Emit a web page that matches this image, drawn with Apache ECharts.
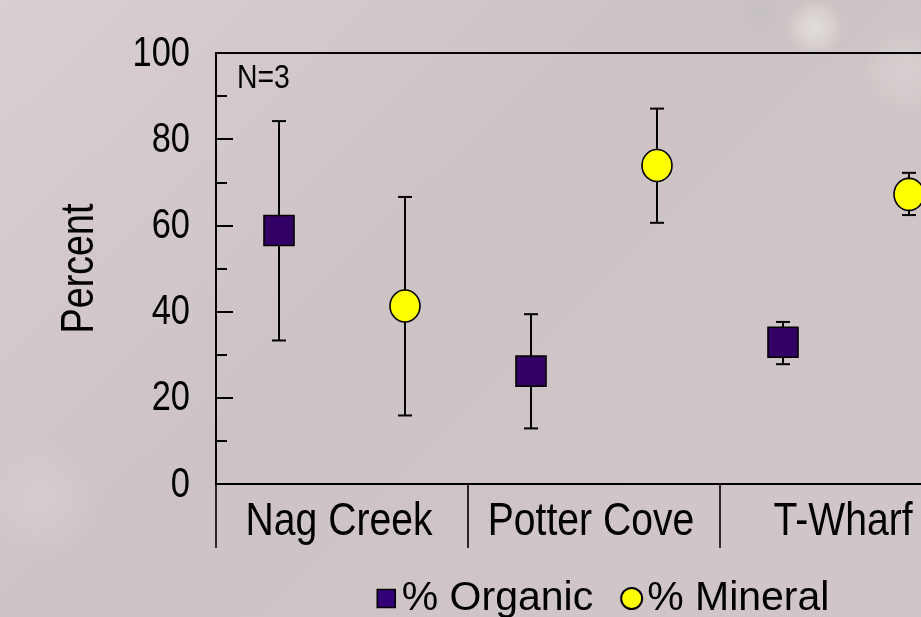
<!DOCTYPE html>
<html>
<head>
<meta charset="utf-8">
<script src="https://cdn.jsdelivr.net/npm/echarts@6/dist/echarts.min.js"></script>
<style>
html,body{margin:0;padding:0;background:#d3c9ca;overflow:hidden;width:921px;height:617px;}
#main{width:1000px;height:617px;}
</style>
</head>
<body>
<div id="main"></div>
<script>
const categories = ['Nag Creek', 'Potter Cove', 'T-Wharf'];
const organicMean = [58.8, 26.2, 32.9];
const organicLow  = [33.3, 12.9, 27.8];
const organicHigh = [84.2, 39.4, 37.6];
const mineralMean = [41.3, 73.9, 67.2];
const mineralLow  = [15.9, 60.6, 62.4];
const mineralHigh = [66.6, 87.1, 72.2];
const yTicks = [0, 20, 40, 60, 80, 100];

const organicData = categories.map((c, i) => [i, organicMean[i], organicLow[i], organicHigh[i]]);
const mineralData = categories.map((c, i) => [i, mineralMean[i], mineralLow[i], mineralHigh[i]]);

const SANS = '"Liberation Sans", Arial, sans-serif';
const NARROW_SCALE = 0.82;

function makeRender(offsetFrac, shape, fill) {
  return function (params, api) {
    const idx = api.value(0);
    const w = api.size([1, 0])[0];
    const c = api.coord([idx, api.value(1)]);
    const x = c[0] + offsetFrac * w;
    const y = c[1];
    const lo = api.coord([idx, api.value(2)])[1];
    const hi = api.coord([idx, api.value(3)])[1];
    const ls = { stroke: '#000', lineWidth: 2 };
    const cap = 7;
    const children = [
      { type: 'line', shape: { x1: x, y1: lo, x2: x, y2: hi }, style: ls },
      { type: 'line', shape: { x1: x - cap, y1: lo, x2: x + cap, y2: lo }, style: ls },
      { type: 'line', shape: { x1: x - cap, y1: hi, x2: x + cap, y2: hi }, style: ls }
    ];
    if (shape === 'rect') {
      children.push({ type: 'rect', shape: { x: x - 15, y: y - 15, width: 30, height: 30 },
        style: { fill: fill, stroke: '#000', lineWidth: 1.6 } });
    } else {
      children.push({ type: 'ellipse', shape: { cx: x, cy: y, rx: 15, ry: 16 },
        style: { fill: fill, stroke: '#000', lineWidth: 1.6 } });
    }
    return { type: 'group', children: children };
  };
}

function softBlob(cx, cy, rx, ry, rgb, alpha, rot) {
  return {
    type: 'ellipse', silent: true, z: -10,
    x: cx, y: cy, rotation: rot || 0,
    shape: { cx: 0, cy: 0, rx: rx, ry: ry },
    style: {
      fill: {
        type: 'radial', x: 0.5, y: 0.5, r: 0.5,
        colorStops: [
          { offset: 0, color: 'rgba(' + rgb + ',' + alpha + ')' },
          { offset: 0.5, color: 'rgba(' + rgb + ',' + (alpha * 0.6) + ')' },
          { offset: 1, color: 'rgba(' + rgb + ',0)' }
        ]
      }
    }
  };
}

const chart = echarts.init(document.getElementById('main'), null, { renderer: 'canvas' });
chart.setOption({
  backgroundColor: {
    type: 'linear', x: 0, y: 0, x2: 0.6, y2: 1,
    colorStops: [
      { offset: 0, color: '#dacfd0' },
      { offset: 0.55, color: '#cec3c4' },
      { offset: 1, color: '#d0c6c7' }
    ]
  },
  animation: false,
  grid: {
    left: 216, top: 53, right: 28, bottom: 133,
    show: true, borderColor: '#000', borderWidth: 2, backgroundColor: 'transparent'
  },
  legend: {
    left: 375, top: 578, padding: 0,
    itemWidth: 21, itemHeight: 21, itemGap: 27,
    textStyle: { fontFamily: SANS, fontSize: 41, color: '#000' },
    data: [
      { name: '% Organic', icon: 'path://M0,0M21,21M1.5,1.5h18v18h-18z',
        itemStyle: { color: '#330077', borderColor: '#000', borderWidth: 1.5 } },
      { name: '% Mineral', icon: 'circle',
        itemStyle: { color: '#ffff00', borderColor: '#000', borderWidth: 2 } }
    ]
  },
  xAxis: {
    type: 'category',
    data: categories,
    boundaryGap: true,
    axisLine: { lineStyle: { color: '#000', width: 2 } },
    axisTick: { show: true, inside: false, length: 64, alignWithLabel: false, interval: 0,
      lineStyle: { color: '#000', width: 1.6 } },
    axisLabel: { show: false },
    splitLine: { show: false }
  },
  yAxis: {
    type: 'value',
    min: yTicks[0], max: yTicks[yTicks.length - 1], interval: 20,
    axisLine: { show: true, lineStyle: { color: '#000', width: 2 } },
    axisTick: { show: true, inside: true, length: 17, lineStyle: { color: '#000', width: 2 } },
    minorTick: { show: true, splitNumber: 2, length: 11, lineStyle: { color: '#000', width: 2 } },
    axisLabel: { show: false },
    splitLine: { show: false }
  },
  series: [
    { name: '% Organic', type: 'custom', renderItem: makeRender(-0.25, 'rect', '#330066'),
      itemStyle: { color: '#330066' }, encode: { x: 0, y: 1 }, data: organicData, z: 5 },
    { name: '% Mineral', type: 'custom', renderItem: makeRender(0.25, 'circle', '#ffff00'),
      itemStyle: { color: '#ffff00' }, encode: { x: 0, y: 1 }, data: mineralData, z: 5 }
  ]
});

// Narrow (Arial Narrow-like) text labels, placed through the chart's own scales
const graphics = [
  softBlob(760, 12, 85, 30, '185,186,192', 0.35, 0.35),
  softBlob(815, 28, 60, 28, '238,238,234', 0.6, 0.6),
  softBlob(905, 70, 45, 80, '230,226,226', 0.35, 0),
  softBlob(40, 500, 60, 150, '222,214,215', 0.4, 0)
];
yTicks.forEach(function (v) {
  const p = chart.convertToPixel({ gridIndex: 0 }, [0, v]);
  graphics.push({
    type: 'text', x: 190, y: p[1] + 1, scaleX: NARROW_SCALE, z: 10,
    style: { text: String(v), font: '42px ' + SANS, fill: '#000', align: 'right', verticalAlign: 'middle' }
  });
});
const axisBottom = chart.convertToPixel({ gridIndex: 0 }, [0, 0])[1];
const axisTop = chart.convertToPixel({ gridIndex: 0 }, [0, 100])[1];
categories.forEach(function (name, i) {
  const p = chart.convertToPixel({ gridIndex: 0 }, [i, 0]);
  graphics.push({
    type: 'text', x: p[0] - 3, y: axisBottom + 38, scaleX: 0.85, z: 10,
    style: { text: name, font: '46px ' + SANS, fill: '#000', align: 'center', verticalAlign: 'middle' }
  });
});
graphics.push({
  type: 'text', x: 80, y: (axisBottom + axisTop) / 2, rotation: Math.PI / 2, scaleX: NARROW_SCALE, z: 10,
  style: { text: 'Percent', font: '46px ' + SANS, fill: '#000', align: 'center', verticalAlign: 'middle' }
});
graphics.push({
  type: 'text', x: 237, y: axisTop + 26, scaleX: 0.86, z: 10,
  style: { text: 'N=3', font: '33px ' + SANS, fill: '#000', align: 'left', verticalAlign: 'middle' }
});
chart.setOption({ graphic: graphics });
</script>
</body>
</html>
